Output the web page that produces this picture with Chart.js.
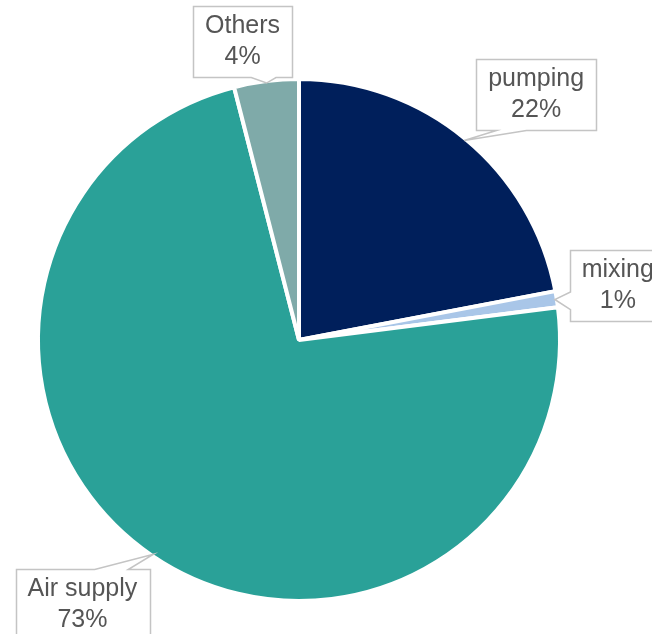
<!DOCTYPE html>
<html>
<head>
<meta charset="utf-8">
<script src="https://cdn.jsdelivr.net/npm/chart.js@4"></script>
<style>
  html, body { margin: 0; padding: 0; background: #fff; overflow: hidden; }
  canvas { display: block; }
</style>
</head>
<body>
<canvas id="energyPie" width="652" height="634"></canvas>
<script>
// Energy use by process step, percent
const categories = ['pumping', 'mixing', 'Air supply', 'Others'];
const shares = [22, 1, 73, 4];
const sliceColors = ['#001f5b', '#a9c6e8', '#2aa198', '#7faaa9'];

// callout box centre, offset from the rim point its tail points at
const calloutShift = [[72, -46], [63, -14], [-71, 50], [-24, -42]];

// rectangle with a wedge-shaped tail running out to (tx, ty)
function drawCallout(ctx, x, y, w, h, tx, ty) {
  x = Math.round(x) + 0.5; y = Math.round(y) + 0.5;
  w = Math.round(w); h = Math.round(h);
  const cx = x + w / 2, cy = y + h / 2;
  const dx = (tx - cx) / w, dy = (ty - cy) / h;
  let pts;
  if (Math.abs(dy) >= Math.abs(dx)) {
    const a = dx > 0 ? x + w * 7 / 12 : x + w * 2 / 12;
    const b = dx > 0 ? x + w * 10 / 12 : x + w * 5 / 12;
    if (dy > 0) pts = [[x, y], [x + w, y], [x + w, y + h], [b, y + h], [tx, ty], [a, y + h], [x, y + h]];
    else pts = [[x, y], [a, y], [tx, ty], [b, y], [x + w, y], [x + w, y + h], [x, y + h]];
  } else {
    const a = dy > 0 ? y + h * 7 / 12 : y + h * 2 / 12;
    const b = dy > 0 ? y + h * 10 / 12 : y + h * 5 / 12;
    if (dx > 0) pts = [[x, y], [x + w, y], [x + w, a], [tx, ty], [x + w, b], [x + w, y + h], [x, y + h]];
    else pts = [[x, y], [x + w, y], [x + w, y + h], [x, y + h], [x, b], [tx, ty], [x, a]];
  }
  ctx.beginPath();
  pts.forEach((p, i) => i ? ctx.lineTo(p[0], p[1]) : ctx.moveTo(p[0], p[1]));
  ctx.closePath();
  ctx.fillStyle = '#ffffff';
  ctx.fill();
  ctx.lineWidth = 1.5;
  ctx.strokeStyle = '#c4c4c4';
  ctx.stroke();
}

const calloutPlugin = {
  id: 'callouts',
  afterDatasetsDraw(chart) {
    const ctx = chart.ctx;
    const arcs = chart.getDatasetMeta(0).data;
    ctx.save();
    ctx.font = '25px "Liberation Sans", Arial, sans-serif';
    ctx.textAlign = 'center';
    ctx.textBaseline = 'middle';
    arcs.forEach((arc, i) => {
      const mid = (arc.startAngle + arc.endAngle) / 2;
      const r = arc.outerRadius - 2;
      const tipX = arc.x + Math.cos(mid) * r;
      const tipY = arc.y + Math.sin(mid) * r;
      const lines = [categories[i], shares[i] + '%'];
      const w = Math.max(...lines.map(l => ctx.measureText(l).width)) + 24;
      const h = 71;
      const cx = tipX + calloutShift[i][0];
      const cy = tipY + calloutShift[i][1];
      drawCallout(ctx, cx - w / 2, cy - h / 2, w, h, tipX, tipY);
      ctx.fillStyle = '#555555';
      ctx.fillText(lines[0], cx, cy - 15);
      ctx.fillText(lines[1], cx, cy + 16);
    });
    ctx.restore();
  }
};

new Chart(document.getElementById('energyPie'), {
  type: 'pie',
  data: {
    labels: categories,
    datasets: [{
      data: shares,
      backgroundColor: sliceColors,
      borderColor: '#ffffff',
      borderWidth: 4,
      hoverOffset: 0
    }]
  },
  options: {
    responsive: false,
    animation: false,
    layout: { padding: { left: 36, right: 90, top: 77, bottom: 31 } },
    plugins: {
      legend: { display: false },
      tooltip: { enabled: false }
    }
  },
  plugins: [calloutPlugin]
});
</script>
</body>
</html>
